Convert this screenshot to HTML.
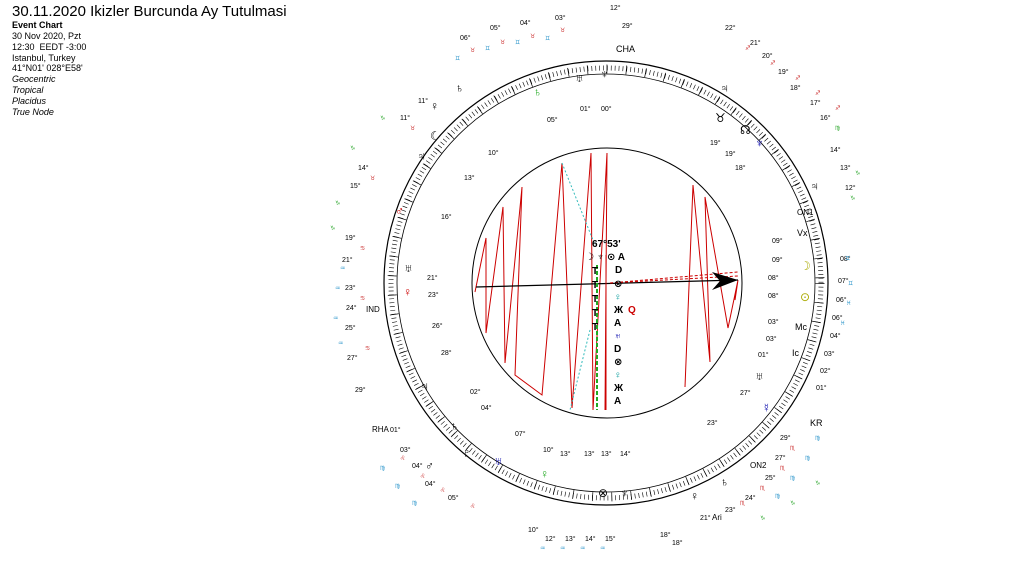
<!DOCTYPE html>
<html><head><meta charset="utf-8"><style>
html,body{margin:0;padding:0;background:#fff;width:1024px;height:566px;overflow:hidden;font-family:"Liberation Sans",sans-serif}
.t{position:absolute;left:12px;color:#000}
</style></head><body>
<div class="t" style="top:3px;font-size:15px">30.11.2020 Ikizler Burcunda Ay Tutulmasi</div>
<div class="t" style="top:20px;font-size:9px;font-weight:bold">Event Chart</div>
<div class="t" style="top:31px;font-size:9px;line-height:10.8px">30 Nov 2020, Pzt<br>12:30 &nbsp;EEDT -3:00<br>Istanbul, Turkey<br>41°N01' 028°E58'<br><i>Geocentric<br>Tropical<br>Placidus<br>True Node</i></div>
<svg width="1024" height="566" style="position:absolute;left:0;top:0" font-family="Liberation Sans,DejaVu Sans,sans-serif">
<circle cx="606" cy="283" r="222" fill="none" stroke="#000" stroke-width="1.2"/>
<circle cx="606" cy="283" r="215" fill="none" stroke="#000" stroke-width="5" stroke-dasharray="0.6 3.3"/>
<circle cx="606" cy="283" r="214" fill="none" stroke="#000" stroke-width="9" stroke-dasharray="0.7 18.7"/>
<circle cx="606" cy="283" r="209" fill="none" stroke="#000" stroke-width="0.8"/>
<circle cx="607" cy="283" r="135" fill="none" stroke="#000" stroke-width="1"/>
<polyline fill="none" stroke="#c00" stroke-width="1" points="475,292 486,238 486,333 503,207 505,363 522,187 515,375 542,395 562,163 572,408 591,153 593,410 607,153 605,410"/>
<polyline fill="none" stroke="#c00" stroke-width="1" points="685,387 693,185 710,362 705,197 728,328 738,280 735,300"/>
<line x1="562" y1="163" x2="595" y2="245" stroke="#3bb" stroke-dasharray="2 2"/>
<line x1="590" y1="330" x2="570" y2="410" stroke="#3bb" stroke-dasharray="2 2"/>
<line x1="476" y1="287" x2="738" y2="280" stroke="#000" stroke-width="1.2"/>
<line x1="610" y1="283" x2="738" y2="272" stroke="#c00" stroke-dasharray="3 2"/>
<line x1="610" y1="283" x2="738" y2="276" stroke="#c00" stroke-dasharray="3 2"/>
<polygon points="738,280 712,272 720,281 712,290" fill="#000"/>
<line x1="606" y1="255" x2="606" y2="410" stroke="#c00"/>
<line x1="597" y1="265" x2="597" y2="410" stroke="#2a2" stroke-width="2" stroke-dasharray="4 2"/>
<g font-size="10" font-weight="bold" fill="#000">
<text x="592" y="247">67°53'</text>
<text x="585" y="260">☽ ♆ ⊙ A</text>
<text x="615" y="273">D</text><text x="614" y="287">⊗</text><text x="614" y="300" fill="#099">♀</text>
<text x="614" y="313">Ж</text><text x="628" y="313" fill="#c00">Q</text><text x="614" y="326">A</text>
<text x="614" y="339" fill="#00a">♅</text><text x="614" y="352">D</text><text x="614" y="365">⊗</text>
<text x="614" y="378" fill="#099">♀</text><text x="614" y="391">Ж</text><text x="614" y="404">A</text>
<text x="592" y="274">T</text><text x="592" y="288">T</text><text x="592" y="302">T</text><text x="592" y="316">T</text><text x="592" y="330">T</text>
</g>
<g font-size="7" fill="#000">
<text x="580" y="111">01°</text><text x="601" y="111">00°</text><text x="547" y="122">05°</text>
<text x="488" y="155">10°</text><text x="464" y="180">13°</text><text x="441" y="219">16°</text>
<text x="427" y="280">21°</text><text x="428" y="297">23°</text><text x="432" y="328">26°</text><text x="441" y="355">28°</text>
<text x="470" y="394">02°</text><text x="481" y="410">04°</text><text x="515" y="436">07°</text>
<text x="543" y="452">10°</text><text x="560" y="456">13°</text><text x="584" y="456">13°</text><text x="601" y="456">13°</text><text x="620" y="456">14°</text>
<text x="710" y="145">19°</text><text x="725" y="156">19°</text><text x="735" y="170">18°</text>
<text x="772" y="243">09°</text><text x="772" y="262">09°</text><text x="768" y="280">08°</text><text x="768" y="298">08°</text>
<text x="768" y="324">03°</text><text x="766" y="341">03°</text><text x="758" y="357">01°</text>
<text x="740" y="395">27°</text><text x="707" y="425">23°</text>
<text x="840" y="261">08°</text><text x="838" y="283">07°</text><text x="836" y="302">06°</text><text x="832" y="320">06°</text>
<text x="830" y="338">04°</text><text x="824" y="356">03°</text><text x="820" y="373">02°</text><text x="816" y="390">01°</text>
<text x="345" y="240">19°</text><text x="342" y="262">21°</text><text x="345" y="290">23°</text><text x="346" y="310">24°</text>
<text x="345" y="330">25°</text><text x="347" y="360">27°</text><text x="355" y="392">29°</text><text x="390" y="432">01°</text>
<text x="400" y="452">03°</text><text x="412" y="468">04°</text><text x="425" y="486">04°</text><text x="448" y="500">05°</text>
<text x="350" y="188">15°</text><text x="358" y="170">14°</text><text x="400" y="120">11°</text><text x="418" y="103">11°</text>
<text x="820" y="120">16°</text><text x="810" y="105">17°</text><text x="790" y="90">18°</text><text x="778" y="74">19°</text><text x="762" y="58">20°</text><text x="750" y="45">21°</text><text x="725" y="30">22°</text>
<text x="845" y="190">12°</text><text x="840" y="170">13°</text><text x="830" y="152">14°</text>
<text x="780" y="440">29°</text><text x="775" y="460">27°</text><text x="765" y="480">25°</text><text x="745" y="500">24°</text><text x="725" y="512">23°</text><text x="700" y="520">21°</text>
<text x="528" y="532">10°</text><text x="545" y="541">12°</text><text x="565" y="541">13°</text><text x="585" y="541">14°</text><text x="605" y="541">15°</text>
<text x="660" y="537">18°</text><text x="672" y="545">18°</text>
<text x="460" y="40">06°</text><text x="490" y="30">05°</text><text x="520" y="25">04°</text><text x="555" y="20">03°</text>
<text x="610" y="10">12°</text><text x="622" y="28">29°</text>
<text x="797" y="215" font-size="8">ON1</text><text x="750" y="468" font-size="8">ON2</text><text x="810" y="426" font-size="9">KR</text>
<text x="372" y="432" font-size="8">RHA</text><text x="616" y="52" font-size="9">CHA</text><text x="712" y="520" font-size="8">Ari</text>
<text x="366" y="312" font-size="8">IND</text><text x="797" y="236" font-size="9">Vx</text><text x="795" y="330" font-size="9">Mc</text><text x="792" y="356" font-size="9">Ic</text>
</g>
<g font-size="6" fill="#c33">
<text x="470" y="52">♉</text><text x="500" y="44">♉</text><text x="530" y="38">♉</text><text x="560" y="32">♉</text>
<text x="745" y="50">♐</text><text x="770" y="65">♐</text><text x="795" y="80">♐</text><text x="815" y="95">♐</text><text x="835" y="110">♐</text>
<text x="410" y="130">♉</text><text x="370" y="180">♉</text><text x="360" y="250">♋</text><text x="360" y="300">♋</text><text x="365" y="350">♋</text>
<text x="400" y="460">♌</text><text x="420" y="478">♌</text><text x="440" y="492">♌</text><text x="470" y="508">♌</text>
<text x="790" y="450">♏</text><text x="780" y="470">♏</text><text x="760" y="490">♏</text><text x="740" y="505">♏</text>
</g>
<g font-size="6" fill="#39c">
<text x="455" y="60">♊</text><text x="485" y="50">♊</text><text x="515" y="44">♊</text><text x="545" y="40">♊</text>
<text x="845" y="260">♊</text><text x="848" y="285">♊</text><text x="846" y="305">♓</text><text x="840" y="325">♓</text>
<text x="340" y="270">♒</text><text x="335" y="290">♒</text><text x="333" y="320">♒</text><text x="338" y="345">♒</text>
<text x="380" y="470">♍</text><text x="395" y="488">♍</text><text x="412" y="505">♍</text>
<text x="815" y="440">♍</text><text x="805" y="460">♍</text><text x="790" y="480">♍</text><text x="775" y="498">♍</text>
<text x="540" y="550">♒</text><text x="560" y="550">♒</text><text x="580" y="550">♒</text><text x="600" y="550">♒</text>
</g>
<g font-size="6" fill="#3a3">
<text x="330" y="230">♑</text><text x="335" y="205">♑</text><text x="350" y="150">♑</text><text x="380" y="120">♑</text>
<text x="850" y="200">♑</text><text x="855" y="175">♑</text><text x="835" y="130">♍</text>
<text x="760" y="520">♑</text><text x="790" y="505">♑</text><text x="815" y="485">♑</text>
</g>
<g font-size="12">
<text x="395" y="215" fill="#c00">♂</text><text x="403" y="296" fill="#c00">♀</text><text x="404" y="272">♅</text>
<text x="740" y="134">☊</text><text x="755" y="147" fill="#00a">♆</text><text x="800" y="270" fill="#aa0">☽</text><text x="800" y="301" fill="#aa0">⊙</text>
<text x="755" y="380">♅</text><text x="762" y="412" fill="#00a">☿</text><text x="533" y="96" fill="#2a2">♄</text>
<text x="417" y="160">♃</text><text x="540" y="478" fill="#2a2">♀</text><text x="620" y="497">♆</text><text x="598" y="497">⊗</text>
<text x="494" y="465" fill="#00a">♅</text><text x="462" y="457">♇</text>
<text x="430" y="110">♀</text><text x="455" y="92">♄</text><text x="600" y="78">♆</text><text x="575" y="82">♅</text>
<text x="720" y="92">♃</text><text x="715" y="122">♉</text><text x="430" y="140">☾</text><text x="810" y="190">♃</text>
<text x="420" y="390">♃</text><text x="450" y="430">♄</text><text x="425" y="470">♂</text><text x="690" y="500">♀</text><text x="720" y="486">♄</text>
</g>
</svg>
</body></html>
